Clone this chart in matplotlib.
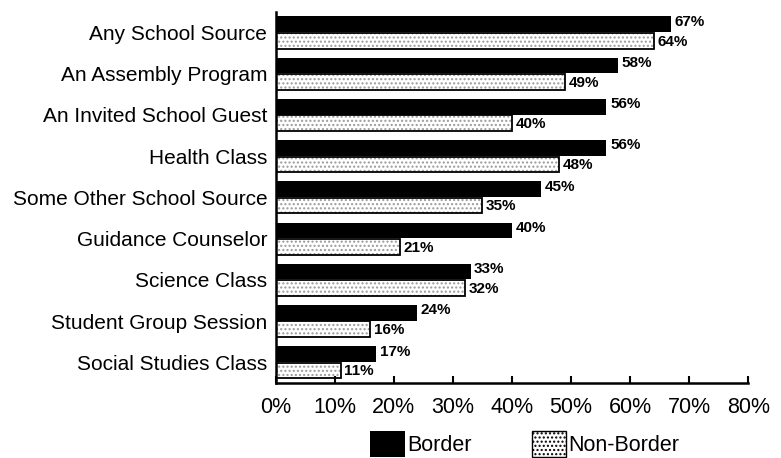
import matplotlib.pyplot as plt
import numpy as np
from matplotlib.patches import Patch

plt.rcParams['font.family'] = ['Liberation Sans', 'DejaVu Sans']

sources = ["Any School Source", "An Assembly Program", "An Invited School Guest",
           "Health Class", "Some Other School Source", "Guidance Counselor",
           "Science Class", "Student Group Session", "Social Studies Class"]
border = [67, 58, 56, 56, 45, 40, 33, 24, 17]
non_border = [64, 49, 40, 48, 35, 21, 32, 16, 11]

fig = plt.figure(figsize=(7.81, 4.58), dpi=100)
ax = fig.add_axes([0.353, 0.164, 0.605, 0.81])

y = np.arange(len(sources))
h = 0.38
ax.barh(y - 0.2, border, height=h, color='black', label='Border')
# speckled white bars: grey dot hatch, then black outline on top
ax.barh(y + 0.2, non_border, height=h, color='white', edgecolor='#9a9a9a',
        hatch='....', linewidth=0)
ax.barh(y + 0.2, non_border, height=h, color='none', edgecolor='black', linewidth=1.3)

for i in range(len(sources)):
    ax.text(border[i] + 0.6, y[i] - 0.26, f"{border[i]}%", va='center', ha='left',
            fontsize=11, fontweight='bold')
    ax.text(non_border[i] + 0.6, y[i] + 0.22, f"{non_border[i]}%", va='center', ha='left',
            fontsize=11, fontweight='bold')

ax.set_xlim(0, 80)
ax.set_ylim(len(sources) - 0.5, -0.5)
ax.set_yticks(y)
ax.set_yticklabels(sources, fontsize=15)
ax.set_xticks(range(0, 81, 10))
ax.set_xticklabels([f"{v}%" for v in range(0, 81, 10)], fontsize=15.5)
ax.tick_params(axis='x', direction='in', length=5, width=1.5, pad=10)
ax.tick_params(axis='y', length=0, pad=6)
for s in ['top', 'right']:
    ax.spines[s].set_visible(False)
for s in ['left', 'bottom']:
    ax.spines[s].set_linewidth(1.8)

handles = [Patch(facecolor='black', label='Border'),
           Patch(facecolor='white', edgecolor='black', hatch='....', label='Non-Border')]
fig.legend(handles=handles, loc='lower center', bbox_to_anchor=(0.672, -0.04), ncol=2,
           frameon=False, fontsize=15.5, handlelength=1.6, handleheight=1.5,
           handletextpad=0.1, columnspacing=2.8)

fig.savefig('out.png', dpi=100)
